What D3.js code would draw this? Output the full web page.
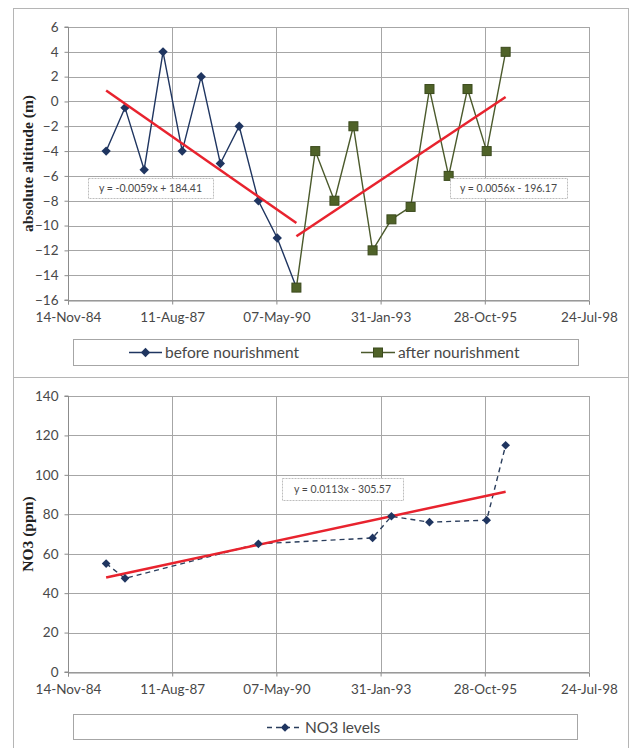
<!DOCTYPE html>
<html>
<head>
<meta charset="utf-8">
<script src="https://cdn.jsdelivr.net/npm/d3@7"></script>
<style>
  body { margin: 0; background: #fff; }
  svg { display: block; }
  text { font-family: Lato, "Open Sans", sans-serif; }
</style>
</head>
<body>
<svg id="chart" width="631" height="748"></svg>
<script>
// ---------- data ----------
const xTickLabels = ["14-Nov-84", "11-Aug-87", "07-May-90", "31-Jan-93", "28-Oct-95", "24-Jul-98"];

const beforeDates = ["15-Nov-85", "15-May-86", "15-Nov-86", "15-May-87", "15-Nov-87", "15-May-88",
                     "15-Nov-88", "15-May-89", "15-Nov-89", "15-May-90", "15-Nov-90"];
const beforeValues = [-4, -0.5, -5.5, 4, -4, 2, -5, -2, -8, -11, -15];

const afterDates = ["15-Nov-90", "15-May-91", "15-Nov-91", "15-May-92", "15-Nov-92", "15-May-93",
                    "15-Nov-93", "15-May-94", "15-Nov-94", "15-May-95", "15-Nov-95", "15-May-96"];
const afterValues = [-15, -4, -8, -2, -12, -9.5, -8.5, 1, -6, 1, -4, 4];

const no3Dates = ["15-Nov-85", "15-May-86", "15-Nov-89", "15-Nov-92", "15-May-93", "15-May-94", "15-Nov-95", "15-May-96"];
const no3Values = [55, 47.5, 65, 68, 79, 76, 77, 115];

const altitudeTicks = [-16, -14, -12, -10, -8, -6, -4, -2, 0, 2, 4, 6];
const no3Ticks = [0, 20, 40, 60, 80, 100, 120, 140];

const seriesNames = ["before nourishment", "after nourishment"];
const no3Name = "NO3 levels";
const equations = ["y = -0.0059x + 184.41", "y = 0.0056x - 196.17", "y = 0.0113x - 305.57"];
const yTitles = ["absolute altitude (m)", "NO3 (ppm)"];

// ---------- helpers ----------
const parse = d3.timeParse("%d-%b-%y");
const fmt = d3.timeFormat("%d-%b-%y");
const zip = (ds, vs) => ds.map((d, i) => ({ date: parse(d), value: vs[i] }));
const before = zip(beforeDates, beforeValues);
const after = zip(afterDates, afterValues);
const no3 = zip(no3Dates, no3Values);
const xTicks = xTickLabels.map(parse);

function regression(data) {
  const xs = data.map(d => +d.date), ys = data.map(d => d.value);
  const mx = d3.mean(xs), my = d3.mean(ys);
  let sxy = 0, sxx = 0;
  xs.forEach((x, i) => { sxy += (x - mx) * (ys[i] - my); sxx += (x - mx) * (x - mx); });
  const b = sxy / sxx, a = my - b * mx;
  const x0 = d3.min(xs), x1 = d3.max(xs);
  return [{ date: new Date(x0), value: a + b * x0 }, { date: new Date(x1), value: a + b * x1 }];
}

const svg = d3.select("#chart");
const C = {
  navy: "#1f3560", olive: "#4f6228", oliveDark: "#3b4a1d", red: "#e8232e",
  grid: "#a6a6a6", text: "#484848", frame: "#b5b5b5"
};

// frames
svg.append("rect").attr("x", 13.5).attr("y", 8.5).attr("width", 615).attr("height", 745)
  .attr("fill", "none").attr("stroke", C.frame);
svg.append("line").attr("x1", 13.5).attr("x2", 628.5).attr("y1", 377.5).attr("y2", 377.5).attr("stroke", C.frame);

const x = d3.scaleTime().domain([xTicks[0], xTicks[xTicks.length - 1]]).range([68, 589]);

function diamond(sel, color, size) {
  sel.attr("d", d3.symbol(d3.symbolDiamond2 || d3.symbolDiamond, size)()).attr("fill", color);
}

function drawPanel(opts) {
  const g = svg.append("g");
  const y = opts.y;
  // gridlines
  g.append("g").selectAll("line").data(opts.yTicks).join("line")
    .attr("x1", x.range()[0]).attr("x2", x.range()[1])
    .attr("y1", d => Math.round(y(d)) + 0.5).attr("y2", d => Math.round(y(d)) + 0.5)
    .attr("stroke", C.grid).attr("stroke-width", 1);
  g.append("g").selectAll("line").data(xTicks.slice(1)).join("line")
    .attr("x1", d => Math.round(x(d)) + 0.5).attr("x2", d => Math.round(x(d)) + 0.5)
    .attr("y1", y.range()[0]).attr("y2", y.range()[1])
    .attr("stroke", C.grid).attr("stroke-width", 1);
  // axes
  const ya = g.append("g").attr("transform", `translate(${Math.round(x.range()[0]) + 0.5},0)`)
    .call(d3.axisLeft(y).tickValues(opts.yTicks).tickSize(4).tickPadding(6));
  const xa = g.append("g").attr("transform", `translate(0,${Math.round(y.range()[0]) + 0.5})`)
    .call(d3.axisBottom(x).tickValues(xTicks).tickFormat(fmt).tickSize(4).tickPadding(8));
  [ya, xa].forEach(a => {
    a.select(".domain").attr("stroke", "#8c8c8c");
    a.selectAll(".tick line").attr("stroke", "#8c8c8c");
    a.selectAll("text").attr("fill", C.text).style("font-size", "13.5px").style("font-family", "Lato, sans-serif");
  });
  ya.select(".domain").attr("d", `M-4,${y.range()[0]}H0V${y.range()[1]}H-4`);
  // title
  g.append("text")
    .attr("transform", `translate(${opts.titleX},${(y.range()[0] + y.range()[1]) / 2}) rotate(-90)`)
    .attr("text-anchor", "middle")
    .style("font-family", "'Liberation Serif', 'DejaVu Serif', serif")
    .style("font-weight", "bold").style("font-size", "15.5px").attr("fill", "#222")
    .text(opts.title);
  return g;
}

// ---------- top panel ----------
const yTop = d3.scaleLinear().domain([-16, 6]).range([300, 27]);
const gTop = drawPanel({ y: yTop, yTicks: altitudeTicks, title: yTitles[0], titleX: 33 });
const lineTop = d3.line().x(d => x(d.date)).y(d => yTop(d.value));

gTop.append("path").datum(before).attr("d", lineTop).attr("fill", "none").attr("stroke", C.navy).attr("stroke-width", 1.4);
gTop.append("path").datum(after).attr("d", lineTop).attr("fill", "none").attr("stroke", "#4b5a2c").attr("stroke-width", 1.4);
gTop.selectAll(".bm").data(before).join("path").attr("class", "bm")
  .attr("transform", d => `translate(${x(d.date)},${yTop(d.value)})`).call(diamond, C.navy, 56);
gTop.selectAll(".am").data(after).join("rect").attr("class", "am")
  .attr("x", d => x(d.date) - 4.5).attr("y", d => yTop(d.value) - 4.5)
  .attr("width", 9).attr("height", 9).attr("fill", C.olive).attr("stroke", C.oliveDark).attr("stroke-width", 1);
gTop.append("path").datum(regression(before)).attr("d", lineTop).attr("stroke", C.red).attr("stroke-width", 2.5).attr("fill", "none");
gTop.append("path").datum(regression(after)).attr("d", lineTop).attr("stroke", C.red).attr("stroke-width", 2.5).attr("fill", "none");

function eqLabel(g, x0, y0, w, h, txt) {
  g.append("rect").attr("x", x0 + 0.5).attr("y", y0 + 0.5).attr("width", w).attr("height", h)
    .attr("fill", "#fff").attr("stroke", "#bdbdbd").attr("stroke-dasharray", "2,1");
  g.append("text").attr("x", x0 + w / 2).attr("y", y0 + h / 2 + 3.5).attr("text-anchor", "middle")
    .style("font-size", "10.5px").attr("fill", C.text).text(txt);
}
eqLabel(gTop, 88, 178, 125, 20, equations[0]);
eqLabel(gTop, 450, 178, 117, 20, equations[1]);

// legend top
const lgTop = svg.append("g");
lgTop.append("rect").attr("x", 73.5).attr("y", 339.5).attr("width", 505).attr("height", 26)
  .attr("fill", "#fff").attr("stroke", "#a6a6a6");
lgTop.append("line").attr("x1", 129).attr("x2", 162).attr("y1", 352.5).attr("y2", 352.5).attr("stroke", C.navy).attr("stroke-width", 1.5);
lgTop.append("path").attr("transform", "translate(145.5,352.5)").call(diamond, C.navy, 56);
lgTop.append("text").attr("x", 165).attr("y", 357.5).style("font-size", "15.5px").attr("fill", C.text).text(seriesNames[0]);
lgTop.append("line").attr("x1", 361).attr("x2", 395).attr("y1", 352.5).attr("y2", 352.5).attr("stroke", "#4b5a2c").attr("stroke-width", 1.5);
lgTop.append("rect").attr("x", 373.5).attr("y", 348).attr("width", 9).attr("height", 9).attr("fill", C.olive).attr("stroke", C.oliveDark);
lgTop.append("text").attr("x", 398).attr("y", 357.5).style("font-size", "15.5px").attr("fill", C.text).text(seriesNames[1]);

// ---------- bottom panel ----------
const yBot = d3.scaleLinear().domain([0, 140]).range([672, 396]);
const gBot = drawPanel({ y: yBot, yTicks: no3Ticks, title: yTitles[1], titleX: 33 });
const lineBot = d3.line().x(d => x(d.date)).y(d => yBot(d.value));
gBot.append("path").datum(no3).attr("d", lineBot).attr("fill", "none").attr("stroke", "#2a3d5c")
  .attr("stroke-width", 1.4).attr("stroke-dasharray", "5,4");
gBot.append("path").datum(regression(no3)).attr("d", lineBot).attr("stroke", C.red).attr("stroke-width", 2.5).attr("fill", "none");
gBot.selectAll(".nm").data(no3).join("path").attr("class", "nm")
  .attr("transform", d => `translate(${x(d.date)},${yBot(d.value)})`).call(diamond, C.navy, 48);
eqLabel(gBot, 282, 478, 121, 22, equations[2]);

// legend bottom
const lgBot = svg.append("g");
lgBot.append("rect").attr("x", 73.5).attr("y", 714.5).attr("width", 504).attr("height", 25)
  .attr("fill", "#fff").attr("stroke", "#a6a6a6");
lgBot.append("line").attr("x1", 267).attr("x2", 302).attr("y1", 727.5).attr("y2", 727.5)
  .attr("stroke", "#2a3d5c").attr("stroke-width", 1.5).attr("stroke-dasharray", "5,4");
lgBot.append("path").attr("transform", "translate(285,727.5)").call(diamond, C.navy, 48);
lgBot.append("text").attr("x", 305).attr("y", 732.5).style("font-size", "15.5px").attr("fill", C.text).text(no3Name);
</script>
</body>
</html>
